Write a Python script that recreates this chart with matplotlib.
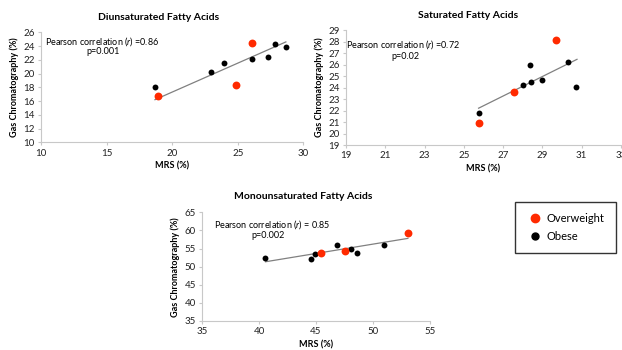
import numpy as np
import matplotlib
matplotlib.use('Agg')
import matplotlib.pyplot as plt
from matplotlib.lines import Line2D

plt.rcParams['font.family'] = ['Lato', 'DejaVu Sans']
plt.rcParams['mathtext.fontset'] = 'custom'
plt.rcParams['mathtext.rm'] = 'Lato'
plt.rcParams['mathtext.it'] = 'Lato:italic'

# Diunsaturated
di_ow_x = [18.94, 24.84, 26.10]
di_ow_y = [16.78, 18.33, 24.40]
di_ob_x = [18.69, 22.93, 23.95, 26.06, 27.32, 27.81, 28.65]
di_ob_y = [18.04, 20.18, 21.53, 22.07, 22.36, 24.25, 23.82]
di_trend_x = [18.69, 28.67]
di_trend_y = [16.2, 24.6]

# Saturated
sat_ow_x = [25.78, 27.56, 29.70]
sat_ow_y = [20.94, 23.63, 28.10]
sat_ob_x = [25.77, 27.99, 28.36, 28.40, 28.96, 30.28, 30.72]
sat_ob_y = [21.78, 24.24, 25.96, 24.50, 24.68, 26.19, 24.07]
sat_trend_x = [25.75, 30.76]
sat_trend_y = [22.2, 26.45]

# Monounsaturated
mono_ow_x = [45.45, 47.57, 53.06]
mono_ow_y = [53.64, 54.28, 59.20]
mono_ob_x = [40.57, 44.57, 44.92, 46.82, 48.05, 48.63, 50.94]
mono_ob_y = [52.30, 52.15, 53.45, 56.10, 54.90, 53.90, 55.86]
mono_trend_x = [40.57, 53.06]
mono_trend_y = [51.35, 57.8]

W, H = 622, 350
RED = '#ff2a00'


def px(x, y):
    return x / W, 1 - y / H


fig = plt.figure(figsize=(6.22, 3.5), dpi=100)


def panel(rect, ow_x, ow_y, ob_x, ob_y, tr_x, tr_y, xlim, xticks, ylim, yticks):
    ax = fig.add_axes(rect)
    ax.plot(tr_x, tr_y, color='#808080', lw=0.9, zorder=1)
    ax.scatter(ob_x, ob_y, s=18, color='black', zorder=3, linewidths=0)
    ax.scatter(ow_x, ow_y, s=32, color=RED, zorder=4, linewidths=0)
    ax.set_xlim(xlim)
    ax.set_ylim(ylim)
    ax.set_xticks(xticks)
    ax.set_yticks(yticks)
    for s in ['top', 'right']:
        ax.spines[s].set_visible(False)
    for s in ['left', 'bottom']:
        ax.spines[s].set_color('#c8c8c8')
        ax.spines[s].set_linewidth(0.8)
    ax.tick_params(length=2.5, width=0.8, color='#c8c8c8', labelsize=7,
                   labelcolor='#222222', pad=2)
    ax.set_xlabel('MRS (%)', fontsize=6.5, fontweight='bold', labelpad=3)
    ax.set_ylabel('Gas Chromatography (%)', fontsize=6.5, fontweight='bold', labelpad=3)
    return ax


ax1 = panel([41 / W, 1 - 142.3 / H, 262.3 / W, 110 / H],
            di_ow_x, di_ow_y, di_ob_x, di_ob_y, di_trend_x, di_trend_y,
            (10, 30), range(10, 31, 5), (10, 26), range(10, 27, 2))
ax2 = panel([346 / W, 1 - 145 / H, 275 / W, 115 / H],
            sat_ow_x, sat_ow_y, sat_ob_x, sat_ob_y, sat_trend_x, sat_trend_y,
            (19, 33), range(19, 34, 2), (19, 29), range(19, 30, 1))
ax3 = panel([202 / W, 1 - 321 / H, 228 / W, 108.7 / H],
            mono_ow_x, mono_ow_y, mono_ob_x, mono_ob_y, mono_trend_x, mono_trend_y,
            (35, 55), range(35, 56, 5), (35, 65), range(35, 66, 5))

# titles
fig.text(*px(158.8, 17.3), 'Diunsaturated Fatty Acids', ha='center', va='center',
         fontsize=7.5, fontweight='bold')
fig.text(*px(468.5, 15.7), 'Saturated Fatty Acids', ha='center', va='center',
         fontsize=7.5, fontweight='bold')
fig.text(*px(302.7, 196.7), 'Monounsaturated Fatty Acids', ha='center', va='center',
         fontsize=7.5, fontweight='bold')

# correlation annotations
ann = [
    ((102.5, 41.7), r'Pearson correlation ($\it{r}$) =0.86', (103, 51.7), 'p=0.001'),
    ((403.5, 45.0), r'Pearson correlation ($\it{r}$) =0.72', (405, 56.7), 'p=0.02'),
    ((272.5, 224.3), r'Pearson correlation ($\it{r}$) = 0.85', (268, 236.0), 'p=0.002'),
]
for p1, t1, p2, t2 in ann:
    fig.text(*px(*p1), t1, ha='center', va='center', fontsize=6.5)
    fig.text(*px(*p2), t2, ha='center', va='center', fontsize=6.5)

handles = [Line2D([], [], marker='o', ls='', color=RED, markersize=6),
           Line2D([], [], marker='o', ls='', color='black', markersize=5)]
leg = fig.legend(handles, ['Overweight', 'Obese'], loc='center',
                 bbox_to_anchor=px(565.5, 227.5), fontsize=8, frameon=True,
                 fancybox=False, edgecolor='black', borderpad=1.0,
                 handletextpad=0.2, labelspacing=0.6, borderaxespad=0,
                 handlelength=1.6)
leg.get_frame().set_linewidth(1.0)

fig.savefig('out.png', dpi=100)
